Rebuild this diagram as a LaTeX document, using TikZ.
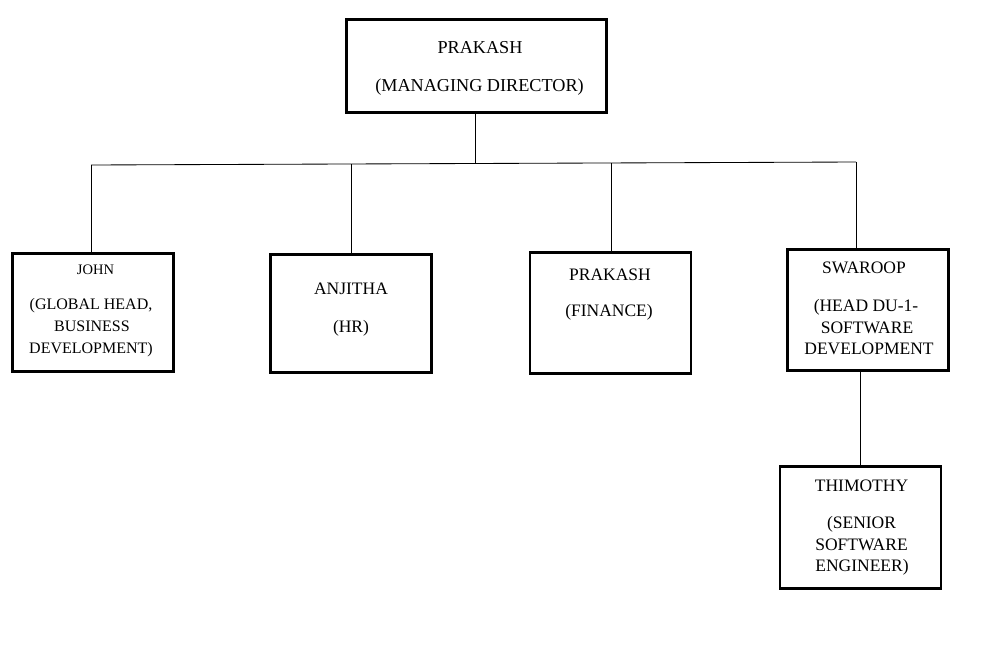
\documentclass[tikz,border=0pt]{standalone}
\usepackage{fontspec}
\setmainfont{Liberation Serif}
\tikzset{
  box/.style={draw, line width=2.2pt, inner sep=0pt, outer sep=0pt},
  link/.style={line width=0.85pt},
  txt/.style={anchor=base, inner sep=0pt, font=\fontsize{17.5}{21}\selectfont},
  txtbig/.style={anchor=base, inner sep=0pt, font=\fontsize{18.2}{22}\selectfont},
  txtsm/.style={anchor=base, inner sep=0pt, font=\fontsize{16}{19}\selectfont},
  txtxs/.style={anchor=base, inner sep=0pt, font=\fontsize{14.5}{17}\selectfont},
}
\begin{document}
\begin{tikzpicture}[x=1pt,y=-1pt]
\useasboundingbox[fill=white] (0,0) rectangle (981,645);
% boxes
\node[box, minimum width=260pt, minimum height=93pt] (md) at (476.5,66) {};
\node[box, minimum width=161pt, minimum height=118pt] (john) at (93,312.5) {};
\node[box, minimum width=161pt, minimum height=118pt] (anj) at (351,313.5) {};
\node[box, minimum width=161pt, minimum height=121pt] (fin) at (610.5,313) {};
\node[box, minimum width=161pt, minimum height=121pt] (swa) at (868,310) {};
\node[box, minimum width=161pt, minimum height=122pt] (thi) at (860.5,527.5) {};
% connector points
\coordinate (bL) at (91,165);
\coordinate (bR) at (856,162);
\coordinate (bM) at (475,163.5);
\coordinate (bA) at (351,164);
\coordinate (bF) at (611,163);
\draw[link] (bL) -- (bR);
\draw[link] (bM |- md.south) -- (bM);
\draw[link] (bL) -- (bL |- john.north);
\draw[link] (bA) -- (bA |- anj.north);
\draw[link] (bF) -- (bF |- fin.north);
\draw[link] (bR) -- (bR |- swa.north);
\draw[link] (thi.north |- swa.south) -- (thi.north);
% texts
\node[txtbig] (md1) at (480,53) {PRAKASH};
\node[txtbig] (md2) at (479.5,91) {(MANAGING DIRECTOR)};
\node[txtxs] (j1) at (95.5,274.5) {JOHN};
\node[txtsm] (j2) at (91,309.5) {(GLOBAL HEAD,};
\node[txtsm] (j3) at (92,331.5) {BUSINESS};
\node[txtsm] (j4) at (91,353) {DEVELOPMENT)};
\node[txt] (a1) at (351,294) {ANJITHA};
\node[txt] (a2) at (351,332) {(HR)};
\node[txt] (f1) at (610,280) {PRAKASH};
\node[txt] (f2) at (609,316) {(FINANCE)};
\node[txt] (s1) at (864,273.5) {SWAROOP};
\node[txt] (s2) at (866,311) {(HEAD DU-1-};
\node[txt] (s3) at (867,333) {SOFTWARE};
\node[txt] (s4) at (869,354.5) {DEVELOPMENT};
\node[txt] (t1) at (861.5,491.5) {THIMOTHY};
\node[txt] (t2) at (861.5,528) {(SENIOR};
\node[txt] (t3) at (861.5,550) {SOFTWARE};
\node[txt] (t4) at (862,571) {ENGINEER)};
\end{tikzpicture}
\end{document}
